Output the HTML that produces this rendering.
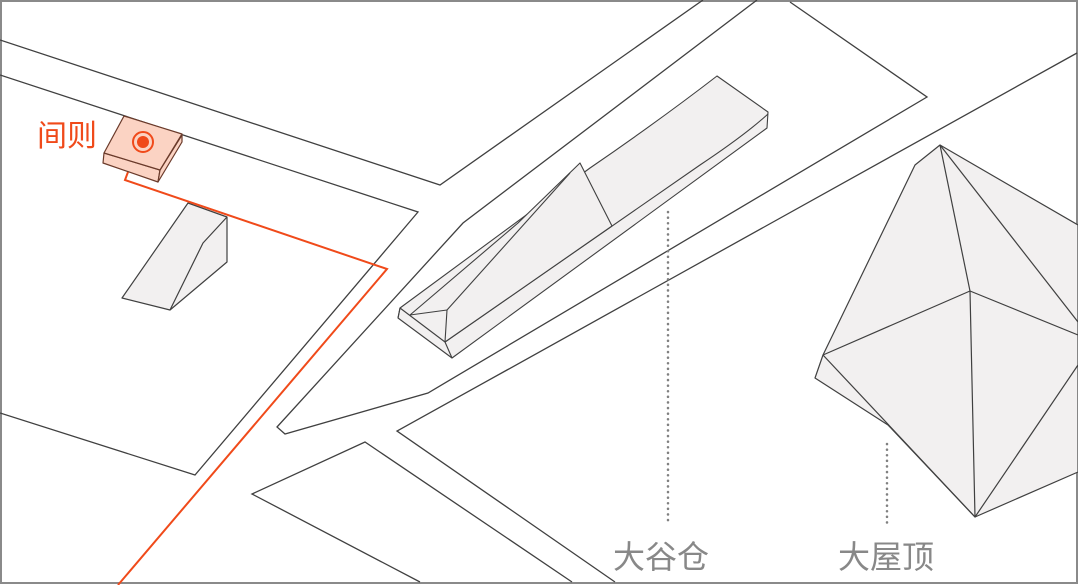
<!DOCTYPE html>
<html><head><meta charset="utf-8"><style>
html,body{margin:0;padding:0;background:#fff;}
svg{display:block;}
text{font-family:"Liberation Sans","Noto Sans CJK SC",sans-serif;}
</style></head><body>
<svg width="1078" height="585" viewBox="0 0 1078 585" xmlns="http://www.w3.org/2000/svg">
<rect x="1" y="1" width="1076" height="582" fill="#fff" stroke="#8a8a8a" stroke-width="2"/>
<g fill="none" stroke="#404040" stroke-width="1.3" stroke-linejoin="miter">
<polyline points="0,40 440,185 703,0"/>
<polyline points="0,75 418,212 195,475 0,413"/>
<polyline points="757,0 463,223 277,427 285,434 428,393 927,97 790,2"/>
<polyline points="1077,53 507,370 397,431 615,582"/>
<polyline points="572,582 365,442 252,494 420,582"/>
</g>
<g stroke="#404040" stroke-width="1.2" fill="#f2f0f0" stroke-linejoin="round">
<polygon points="188,203 227,217 227,262 170,310 122,298"/>
<polyline fill="none" points="227,217 203,243 170,310"/>
</g>
<g stroke="#404040" stroke-width="1.1" fill="#f2f0f0" stroke-linejoin="round">
<path d="M400,308 L590,168 Q660,120 717,76 L768,112 L767,128 L452,358 L398,318 Z"/>
<polyline fill="none" points="400,308 398,318"/>
<path fill="none" d="M445,342 L700,165 Q745,135 768,114"/>
<polyline fill="none" points="445,342 452,358"/>
<polyline fill="none" points="400,308 445,342"/>
<polygon points="410,315 447,310 445,342 612,226 580,163 518,223"/>
<polyline fill="none" points="447,310 570,173"/>
</g>
<g stroke="#404040" stroke-width="1.2" fill="#f2f0f0" stroke-linejoin="round">
<polygon points="940,145 915,165 823,355 815,378 888,425 975,517 1078,472 1078,225"/>
<polyline fill="none" points="940,145 970,291 975,517"/>
<polyline fill="none" points="940,145 1078,322"/>
<polyline fill="none" points="823,355 970,291 1078,335"/>
<polyline fill="none" points="823,355 975,517 1078,365"/>
</g>
<g stroke="#808080" stroke-width="2.5" stroke-dasharray="0.1 5.5" stroke-linecap="round">
<line x1="668" y1="212" x2="668" y2="523"/>
<line x1="887" y1="444" x2="887" y2="523"/>
</g>
<text x="613" y="568" font-size="32" fill="#888">大谷仓</text>
<text x="838" y="568" font-size="32" fill="#888">大屋顶</text>
<polyline points="128,172 125,180 387,269 118,585" fill="none" stroke="#f04a1a" stroke-width="2"/>
<g stroke="#6a3a2a" stroke-width="1.2" fill="#fbd3c3" stroke-linejoin="round">
<polygon points="104,153 160,170 158,182 103,163"/>
<polygon points="160,170 182,135 182,142 158,182"/>
<polygon points="124,116 182,134 160,170 104,153"/>
</g>
<circle cx="143" cy="142" r="10" fill="none" stroke="#f04a1a" stroke-width="2"/>
<circle cx="143" cy="142" r="6" fill="#f04a1a"/>
<text x="37" y="146" font-size="30" fill="#f04a1a">间则</text>
</svg>
</body></html>
